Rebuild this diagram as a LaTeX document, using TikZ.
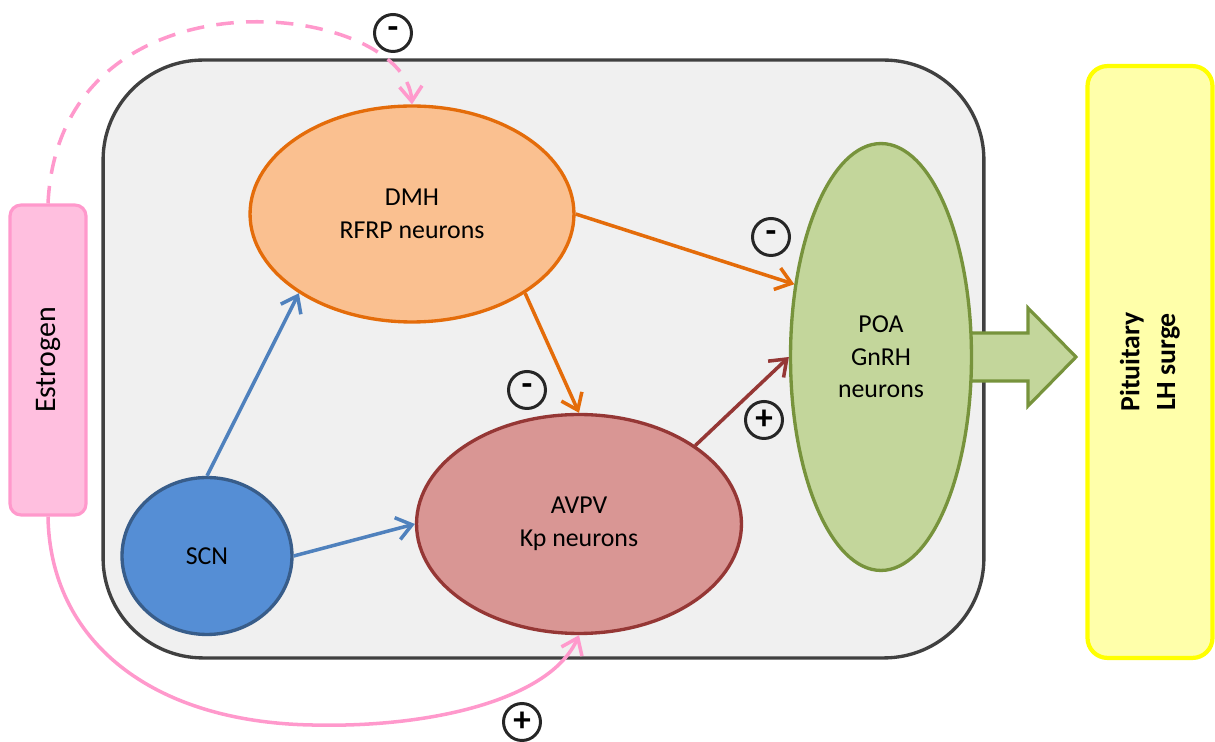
\documentclass[tikz,border=0pt]{standalone}
\usepackage{fontspec}
\setmainfont{Carlito}
\usepackage{tikz}
\usetikzlibrary{arrows.meta,shapes.geometric}
\usepackage{xcolor}

\definecolor{boxfill}{HTML}{F0F0F0}
\definecolor{boxline}{HTML}{404040}
\definecolor{dmhfill}{HTML}{FAC090}
\definecolor{dmhline}{HTML}{E46C0A}
\definecolor{avpvfill}{HTML}{D99694}
\definecolor{avpvline}{HTML}{953735}
\definecolor{scnfill}{HTML}{558ED5}
\definecolor{scnline}{HTML}{385D8A}
\definecolor{poafill}{HTML}{C3D69B}
\definecolor{poaline}{HTML}{77933C}
\definecolor{scnarrow}{HTML}{4F81BD}
\definecolor{estrfill}{HTML}{FFBFDF}
\definecolor{estrline}{HTML}{FF99CC}
\definecolor{pitfill}{HTML}{FFFFAA}
\definecolor{pitline}{HTML}{FFFF00}
\definecolor{signline}{HTML}{262626}

\begin{document}
\begin{tikzpicture}[x=0.02cm, y=-0.02cm, every node/.style={font=\fontsize{14.7}{18.5}\selectfont},
        region/.style={ellipse, draw, line width=1.9pt, inner sep=0pt, align=center},
        link/.style={line width=2pt, -{Straight Barb[length=0.3cm,width=0.45cm]}},
        sign/.style={circle, draw=signline, line width=1.7pt, minimum size=0.74cm, inner sep=0pt, font=\fontsize{20}{20}\selectfont\bfseries}]
        \useasboundingbox (0,0) rectangle (1215,742);
        % hypothalamus frame and side boxes
        \node[draw=boxline, fill=boxfill, line width=1.9pt, rounded corners=2cm, minimum width=17.62cm, minimum height=11.96cm] (hypo) at (543.5,359) {};
        \node[draw=estrline, fill=estrfill, line width=1.8pt, rounded corners=0.22cm, minimum width=1.52cm, minimum height=6.2cm, inner sep=0pt, font=\fontsize{17}{20}\selectfont] (estr) at (48,360) {\rotatebox{90}{Estrogen}};
        \node[draw=pitline, fill=pitfill, line width=2.4pt, rounded corners=0.4cm, minimum width=2.5cm, minimum height=11.84cm, inner sep=0pt, font=\fontsize{15.8}{20.4}\selectfont\bfseries] (pit) at (1150,362) {\rotatebox{90}{\begin{tabular}{@{}c@{}}Pituitary\\LH surge\end{tabular}}};
        % output arrow
        \draw[draw=poaline, fill=poafill, line width=1.8pt] (940,333) -- (1028,333) -- (1028,308) -- (1076,357) -- (1028,406) -- (1028,381) -- (940,381) -- cycle;
        % nuclei
        \node[region, draw=dmhline, fill=dmhfill, minimum width=6.48cm, minimum height=4.32cm] (dmh) at (412,214) {DMH\\RFRP neurons};
        \node[region, draw=avpvline, fill=avpvfill, minimum width=6.5cm, minimum height=4.38cm] (avpv) at (579,524) {AVPV\\Kp neurons};
        \node[region, draw=scnline, fill=scnfill, minimum width=3.4cm, minimum height=3.14cm] (scn) at (207,556) {SCN};
        \node[region, draw=poaline, fill=poafill, minimum width=3.62cm, minimum height=8.54cm] (poa) at (881,357) {POA\\GnRH\\neurons};
        % projections
        \draw[link, scnarrow] (scn.north) -- (dmh.215);
        \draw[link, scnarrow] (scn.east) -- (avpv.west);
        \draw[link, dmhline] (dmh.east) -- (poa.140);
        \draw[link, dmhline] (dmh.325) -- (avpv.north);
        \draw[link, avpvline] (avpv.34) -- (poa.west);
        % estrogen feedback
        \coordinate (low) at (312,725);
        \draw[link, estrline, dash pattern=on 10pt off 7pt] (estr.north) .. controls (60,-40) and (405,0) .. (dmh.north);
        \draw[link, estrline] (estr.south) .. controls (50,640) and (150,722) .. (low) .. controls (430,728) and (550,700) .. (avpv.south);
        % signs
        \node[sign] (s1) at (393,33) {-};
        \node[sign] (s2) at (771,237) {-};
        \node[sign] (s3) at (527,390) {-};
        \node[sign] (s4) at (764,420) {+};
        \node[sign] (s5) at (522,722) {+};
    \end{tikzpicture}
\end{document}
